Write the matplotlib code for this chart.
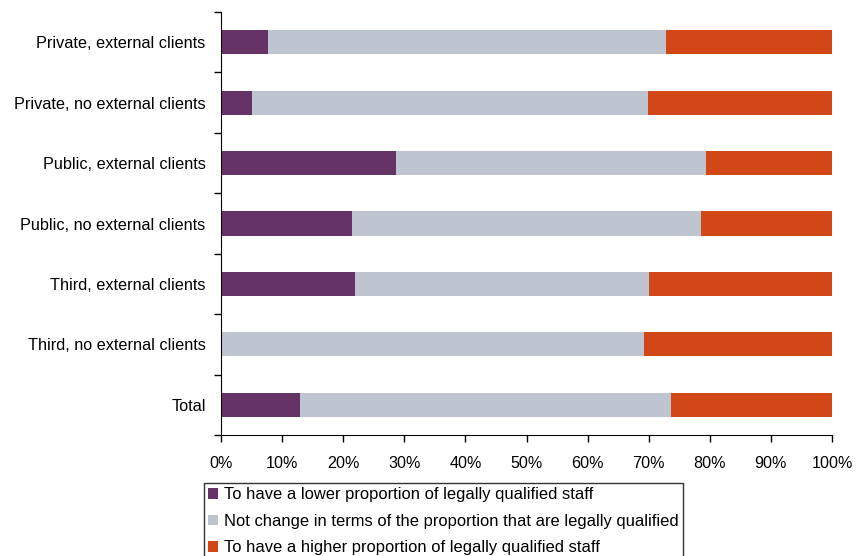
import numpy as np
import matplotlib
matplotlib.use('Agg')
import matplotlib.pyplot as plt
from matplotlib.ticker import FixedLocator, PercentFormatter

categories = ['Private, external clients', 'Private, no external clients',
              'Public, external clients', 'Public, no external clients',
              'Third, external clients', 'Third, no external clients', 'Total']
lower = [7.7, 5.0, 28.6, 21.5, 21.9, 0.0, 12.9]
no_change = [65.1, 64.9, 50.7, 57.1, 48.1, 69.3, 60.7]
higher = [27.2, 30.1, 20.7, 21.4, 30.0, 30.7, 26.4]
series_names = ['To have a lower proportion of legally qualified staff',
                'Not change in terms of the proportion that are legally qualified',
                'To have a higher proportion of legally qualified staff']
colors = ['#663366', '#BFC5D0', '#D24716']

plt.rcParams['font.family'] = ['Liberation Sans', 'DejaVu Sans']

fig = plt.figure(figsize=(8.57, 5.56), dpi=100, facecolor='w')
ax = fig.add_axes([221 / 857, 1 - 435 / 556, 611 / 857, 423 / 556])

y = np.arange(len(categories))
left = np.zeros(len(categories))
for vals, name, c in zip([lower, no_change, higher], series_names, colors):
    vals = np.array(vals)
    ax.barh(y, vals, left=left, height=0.4, color=c, label=name)
    left += vals

ax.set_ylim(len(categories) - 0.5, -0.5)
ax.set_xlim(0, 100)
ax.set_xticks(np.arange(0, 101, 10))
ax.xaxis.set_major_formatter(PercentFormatter(decimals=0))
ax.set_yticks(y)
ax.set_yticklabels(categories)
ax.yaxis.set_minor_locator(FixedLocator(np.arange(-0.5, len(categories), 1)))
ax.tick_params(axis='y', which='major', length=0, pad=11, labelsize=11.7)
ax.tick_params(axis='y', which='minor', length=5, width=1)
ax.tick_params(axis='x', which='major', length=5, width=1, pad=10, labelsize=11.6)
for s in ['top', 'right']:
    ax.spines[s].set_visible(False)

handles, labels = ax.get_legend_handles_labels()
leg = fig.legend(handles, labels, loc='upper left',
                 bbox_to_anchor=(204 / 857, 1 - 483 / 556),
                 fontsize=11.9, frameon=True, fancybox=False,
                 handlelength=0.6, handleheight=0.6, handletextpad=0.35,
                 labelspacing=0.7, borderpad=0.25, borderaxespad=0)
leg.get_frame().set_edgecolor('black')
leg.get_frame().set_linewidth(1)

fig.savefig('out.png', dpi=100)
